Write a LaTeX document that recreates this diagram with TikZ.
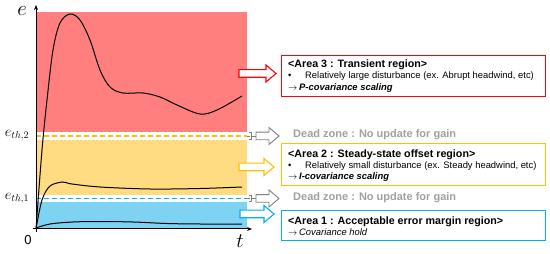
\documentclass[tikz,border=0pt]{standalone}
\usepackage{fontspec}
\setmainfont{Liberation Sans}
\usetikzlibrary{arrows.meta}
\definecolor{redfill}{HTML}{FF7F7F}
\definecolor{yelfill}{HTML}{FFDC82}
\definecolor{bluefill}{HTML}{7FD3F2}
\definecolor{redline}{HTML}{FF0000}
\definecolor{yelline}{HTML}{FFC000}
\definecolor{blueline}{HTML}{00B0F0}
\definecolor{grayline}{HTML}{7F7F7F}
\definecolor{graytext}{HTML}{A0A0A0}
\newcommand{\rarr}{\makebox[11pt][l]{$\mathbf{\rightarrow}$}}
\tikzset{
  infobox/.style={draw=#1, line width=1pt, fill=white},
  ttl/.style={anchor=west, inner sep=0pt, font=\fontsize{10.7}{12}\selectfont\bfseries},
  body/.style={anchor=west, inner sep=0pt, font=\fontsize{9.4}{10}\selectfont},
  act/.style={anchor=west, inner sep=0pt, font=\fontsize{9.4}{10}\selectfont\bfseries\itshape},
  dz/.style={anchor=west, inner sep=0pt, text=graytext, font=\fontsize{11}{12}\selectfont\bfseries},
  curve/.style={line width=1pt, black, smooth, tension=0.55},
  thr/.style={dashed, dash pattern=on 5pt off 3pt, line width=1.1pt},
}
\newcommand{\blockarrow}[5]{% x1, x2, yc, color, linewidth
  \draw[#4, line width=#5, fill=white, line join=miter]
    (#1,#3-3.8) -- (#2-10,#3-3.8) -- (#2-10,#3-8.5) -- (#2,#3) -- (#2-10,#3+8.5)
    -- (#2-10,#3+3.8) -- (#1,#3+3.8) -- cycle;}
\begin{document}
\begin{tikzpicture}[x=1pt, y=-1pt]
\useasboundingbox (0,0) rectangle (550,254);
% regions
\fill[redfill] (36,12) rectangle (247,132);
\fill[yelfill] (36,140) rectangle (247,195);
\fill[bluefill] (36,202) rectangle (247,229);
\draw[thr, yelline] (36,136) -- (247,136);
\draw[thr, blueline] (36,198.5) -- (247,198.5);
% axes
\draw[line width=1pt, -{Stealth[length=5pt,width=4pt]}] (36,232) -- (36,5);
\draw[line width=1pt, -{Stealth[length=5pt,width=4pt]}] (33,229) -- (252,229);
\node[inner sep=0pt, font=\huge] (ye) at (22,11.5) {$e$};
\node[inner sep=0pt, font=\huge] (xt) at (240,241) {$t$};
\node[inner sep=0pt, font=\fontsize{13}{13}\selectfont] (zero) at (28,240) {0};
\node[inner sep=0pt, font=\Large] (th2) at (17,135) {$e_{th,2}$};
\node[inner sep=0pt, font=\Large] (th1) at (17,198) {$e_{th,1}$};
% curves
\draw[curve] plot coordinates {(36,229) (42,150) (47,100) (53,50) (60,23) (70,14) (80,20) (90,40) (100,70) (110,87) (123,93) (143,93) (160,97) (177,105) (200,114) (217,110) (242,96)};
\draw[curve] plot coordinates {(36,229) (42,200) (50,186) (62,182) (66,182.5) (72,184) (100,187) (150,189) (200,188.5) (242,187)};
\draw[curve] plot coordinates {(36,228) (50,224) (73,222) (100,221.5) (133,222) (167,223.5) (200,224) (242,224)};
% dead zone brackets
\draw[grayline, line width=0.8pt] (247,136) -- (250,136);
\draw[grayline, line width=0.8pt] (249,132.5) -- (251,132.5) -- (251,139.5) -- (249,139.5);
\draw[grayline, line width=0.8pt] (251,136) -- (256,136);
\blockarrow{256}{279}{136}{grayline}{0.9pt}
\draw[grayline, line width=0.8pt] (247,198.5) -- (250,198.5);
\draw[grayline, line width=0.8pt] (249,195.5) -- (251,195.5) -- (251,201.5) -- (249,201.5);
\draw[grayline, line width=0.8pt] (251,198.5) -- (256,198.5);
\blockarrow{256}{279}{198.5}{grayline}{0.9pt}
\node[dz] (dz2) at (293,135) {Dead zone : No update for gain};
\node[dz] (dz1) at (293,198) {Dead zone : No update for gain};
% area arrows
\blockarrow{239}{276}{73.5}{redline}{1.1pt}
\blockarrow{239}{274}{167}{yelline}{1.1pt}
\blockarrow{240}{274}{214}{blueline}{1.1pt}
% boxes
\node[infobox=redline, anchor=north west, minimum width=264pt, minimum height=41pt, inner sep=0pt] (b3) at (281,55) {};
\node[ttl] (t3) at (288,65) {<Area 3 : Transient region>};
\node[body] (u3) at (288,76.5) {•};
\node[body] (l3) at (305,76.5) {Relatively large disturbance (ex. Abrupt headwind, etc)};
\node[act] (a3) at (288,88) {\rarr P-covariance scaling};
\node[infobox=yelline, anchor=north west, minimum width=264pt, minimum height=42pt, inner sep=0pt] (b2) at (281,143) {};
\node[ttl] (t2) at (288,154.5) {<Area 2 : Steady-state offset region>};
\node[body] (u2) at (288,166) {•};
\node[body] (l2) at (305,166) {Relatively small disturbance (ex. Steady headwind, etc)};
\node[act] (a2) at (288,177) {\rarr I-covariance scaling};
\node[infobox=blueline, anchor=north west, minimum width=264pt, minimum height=30pt, inner sep=0pt] (b1) at (281,210) {};
\node[ttl] (t1) at (288,221.5) {<Area 1 : Acceptable error margin region>};
\node[act] (a1) at (288,232.5) {\rarr \textmd{\itshape Covariance hold}};
\end{tikzpicture}
\end{document}
